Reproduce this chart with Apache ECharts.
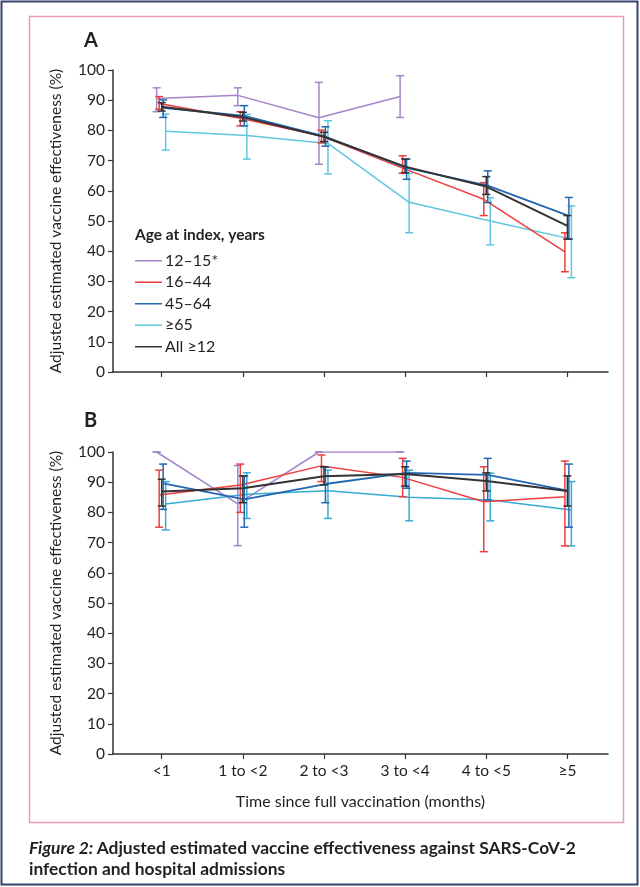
<!DOCTYPE html>
<html><head><meta charset="utf-8">
<script src="https://cdn.jsdelivr.net/npm/echarts@6/dist/echarts.min.js"></script>
<style>html,body{margin:0;padding:0;background:#fff}#c{width:640px;height:887px}</style>
</head><body><div id="c"></div>
<script>
const categories = ['<1','1 to <2','2 to <3','3 to <4','4 to <5','≥5'];
const yTicks = [0,10,20,30,40,50,60,70,80,90,100];
const groups = ['12–15*','16–44','45–64','≥65','All ≥12'];

// Panel A: infection
const A_12_15_est = [90.6, 91.6, 84.2, 91.2, null, null];
const A_12_15_lo  = [86.2, 88.2, 68.8, 84.3, null, null];
const A_12_15_hi  = [94.1, 94.1, 95.9, 98.1, null, null];
const A_16_44_est = [88.9, 84.0, 78.1, 67.5, 57.2, 39.8];
const A_16_44_lo  = [87.0, 81.5, 75.9, 65.8, 51.8, 33.2];
const A_16_44_hi  = [91.2, 86.2, 80.1, 71.6, 62.7, 46.1];
const A_45_64_est = [87.5, 84.8, 77.9, 67.6, 61.7, 51.7];
const A_45_64_lo  = [84.3, 81.5, 74.8, 63.8, 56.1, 44.0];
const A_45_64_hi  = [90.1, 88.2, 81.2, 70.5, 66.6, 57.8];
const A_65_est    = [79.7, 78.3, 75.7, 56.2, 50.0, 44.0];
const A_65_lo     = [73.5, 70.5, 65.6, 46.1, 42.1, 31.2];
const A_65_hi     = [85.4, 85.3, 83.2, 65.8, 57.7, 55.0];
const A_all_est   = [87.8, 84.4, 77.9, 68.0, 61.4, 48.4];
const A_all_lo    = [86.4, 83.1, 76.3, 66.0, 58.8, 44.0];
const A_all_hi    = [89.2, 86.0, 79.4, 70.5, 64.7, 51.8];

// Panel B: hospital admissions
const B_12_15_est = [100, 82.8, 100, 100, null, null];
const B_12_15_lo  = [100, 69.0, 100, 100, null, null];
const B_12_15_hi  = [100, 95.5, 100, 100, null, null];
const B_16_44_est = [85.8, 89.1, 95.4, 91.6, 83.5, 85.2];
const B_16_44_lo  = [75.1, 80.0, 90.2, 85.2, 67.0, 68.9];
const B_16_44_hi  = [94.0, 96.0, 99.0, 97.9, 95.1, 97.0];
const B_45_64_est = [89.6, 84.3, 89.4, 93.1, 92.4, 87.1];
const B_45_64_lo  = [81.0, 75.1, 83.2, 88.0, 84.1, 75.1];
const B_45_64_hi  = [96.0, 92.0, 95.0, 97.0, 97.9, 96.0];
const B_65_est    = [82.8, 86.0, 87.2, 85.0, 84.1, 80.8];
const B_65_lo     = [74.2, 78.0, 78.0, 77.2, 77.2, 68.9];
const B_65_hi     = [90.2, 93.1, 94.0, 94.0, 93.0, 90.2];
const B_all_est   = [86.9, 88.0, 92.0, 92.7, 90.4, 87.1];
const B_all_lo    = [82.1, 83.2, 89.1, 88.7, 87.1, 82.1];
const B_all_hi    = [91.0, 92.1, 95.1, 95.1, 93.1, 92.1];

const colors = {'12–15*':'#a585c9','16–44':'#ef3e3c','45–64':'#2467b1','≥65':'#5fc7de','All ≥12':'#333333'};
const panelColors = [colors, Object.assign({}, colors, {'≥65':'#36abd4'})];
const widths = {'12–15*':1.5,'16–44':1.5,'45–64':1.8,'≥65':1.5,'All ≥12':2};
const dodge = {'12–15*':-0.062,'16–44':-0.031,'45–64':0.018,'≥65':0.049,'All ≥12':0};

const panels = [
  {'12–15*':[A_12_15_est,A_12_15_lo,A_12_15_hi],'16–44':[A_16_44_est,A_16_44_lo,A_16_44_hi],'45–64':[A_45_64_est,A_45_64_lo,A_45_64_hi],'≥65':[A_65_est,A_65_lo,A_65_hi],'All ≥12':[A_all_est,A_all_lo,A_all_hi]},
  {'12–15*':[B_12_15_est,B_12_15_lo,B_12_15_hi],'16–44':[B_16_44_est,B_16_44_lo,B_16_44_hi],'45–64':[B_45_64_est,B_45_64_lo,B_45_64_hi],'≥65':[B_65_est,B_65_lo,B_65_hi],'All ≥12':[B_all_est,B_all_lo,B_all_hi]}
];
const drawOrder = ['12–15*','≥65','16–44','45–64','All ≥12'];

const FONT = 'Lato';
const TXT = '#231f20';

function errRender(color){
  return function(params, api){
    const x = api.value(0), lo = api.value(1), hi = api.value(2);
    const a = api.coord([x, hi]), b = api.coord([x, lo]);
    const w = 4;
    const st = {stroke: color, lineWidth: 1.5};
    return {type:'group', children:[
      {type:'line', shape:{x1:a[0],y1:a[1],x2:b[0],y2:b[1]}, style:st},
      {type:'line', shape:{x1:a[0]-w,y1:a[1],x2:a[0]+w,y2:a[1]}, style:st},
      {type:'line', shape:{x1:b[0]-w,y1:b[1],x2:b[0]+w,y2:b[1]}, style:st}
    ]};
  };
}

const series = [];
panels.forEach((pd, pi) => {
  const pc = panelColors[pi];
  drawOrder.forEach((g, gi) => {
    const [est, lo, hi] = pd[g];
    const lineData = [], errData = [];
    est.forEach((v, i) => {
      if (v == null) return;
      const x = i + dodge[g];
      lineData.push([x, v]);
      errData.push([x, lo[i], hi[i]]);
    });
    series.push({
      type:'custom', name: g + ' CI', xAxisIndex: pi, yAxisIndex: pi,
      renderItem: errRender(pc[g]), encode:{x:0, y:[1,2]}, data: errData,
      z: 2 + gi, silent: true, clip: false
    });
    series.push({
      type:'line', name: g, xAxisIndex: pi, yAxisIndex: pi, data: lineData,
      symbol:'none', color: pc[g], lineStyle:{color: pc[g], width: widths[g]},
      z: 2 + gi, silent: true, animation: false
    });
  });
});

const grids = [
  {left:113, top:70, width:495, height:302},
  {left:113, top:452, width:495, height:302}
];

function xAxisFor(i){
  return {
    type:'value', gridIndex:i, min:-0.6, max:5.5,
    axisLine:{show:true, onZero:false, lineStyle:{color:'#333', width:1.5}},
    axisTick:{show:true, customValues:[0,1,2,3,4,5], length:5, lineStyle:{color:'#333', width:1.2}},
    axisLabel:{show: i===1, customValues:[0,1,2,3,4,5], formatter: v => categories[Math.round(v)],
      fontFamily:FONT, fontSize:15.5, color:TXT, margin:9},
    splitLine:{show:false},
    name: i===1 ? 'Time since full vaccination (months)' : '',
    nameLocation:'middle', nameGap:40,
    nameTextStyle:{fontFamily:FONT, fontSize:16, color:TXT}
  };
}
function yAxisFor(i){
  return {
    type:'value', gridIndex:i, min:0, max:100, interval:10,
    axisLine:{show:true, onZero:false, lineStyle:{color:'#333', width:1.5}},
    axisTick:{show:true, length:5, lineStyle:{color:'#333', width:1.2}},
    axisLabel:{fontFamily:FONT, fontSize:15.5, color:TXT, margin:8},
    splitLine:{show:false},
    name:'Adjusted estimated vaccine effectiveness (%)',
    nameLocation:'middle', nameGap:49,
    nameTextStyle:{fontFamily:FONT, fontSize:15.5, color:TXT}
  };
}

const legendIcon = 'path://M0,0L0,0Z M0,6.2H27V7.8H0Z M27,14L27,14Z';

const option = {
  animation:false,
  backgroundColor:'#fff',
  grid: grids,
  xAxis:[xAxisFor(0), xAxisFor(1)],
  yAxis:[yAxisFor(0), yAxisFor(1)],
  legend:{
    data: groups.map(g => ({name:g, icon: legendIcon, itemStyle:{color: colors[g]}})),
    orient:'vertical', left:135, top:252.7, padding:0,
    itemWidth:27, itemHeight:14, itemGap:5.5,
    textStyle:{fontFamily:FONT, fontSize:16, color:TXT, padding:[0,0,0,-2]},
    selectedMode:false
  },
  series: series,
  graphic:[
    {type:'rect', shape:{x:1.5, y:1.5, width:636, height:883}, style:{fill:'none', stroke:'#34456b', lineWidth:2}, silent:true},
    {type:'rect', shape:{x:29.5, y:16.5, width:594, height:806}, style:{fill:'none', stroke:'#e79cb3', lineWidth:1.5}, silent:true},
    {type:'text', left:84, top:31, style:{text:'A', font:'bold 20px '+FONT, fill:TXT}},
    {type:'text', left:84, top:411, style:{text:'B', font:'bold 20px '+FONT, fill:TXT}},
    {type:'text', left:135, top:227, style:{text:'Age at index, years', font:'bold 15.5px '+FONT, fill:TXT}},
    {type:'text', left:29, top:840, style:{
      text:'{i|Figure 2:} {b|Adjusted estimated vaccine effectiveness against SARS-CoV-2}\n{b|infection and hospital admissions}',
      rich:{
        i:{font:'italic bold 17.4px '+FONT, fill:TXT, lineHeight:21},
        b:{font:'bold 17.4px '+FONT, fill:TXT, lineHeight:21}
      }
    }}
  ]
};

const chart = echarts.init(document.getElementById('c'), null, {renderer:'canvas'});
chart.setOption(option);
</script>
</body></html>
